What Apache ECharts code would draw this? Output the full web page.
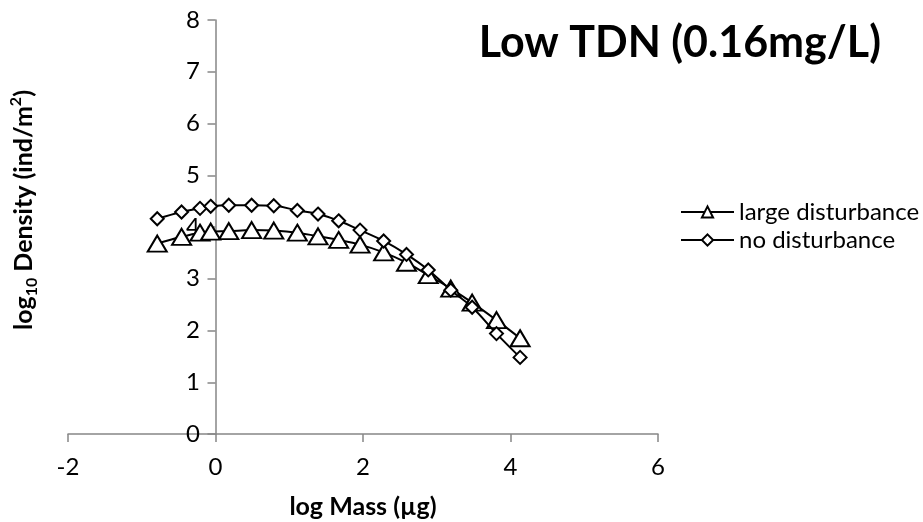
<!DOCTYPE html>
<html>
<head>
<meta charset="utf-8">
<script src="https://cdn.jsdelivr.net/npm/echarts@6/dist/echarts.min.js"></script>
<style>
html,body{margin:0;padding:0;background:#fff;}
#chart{width:923px;height:522px;}
</style>
</head>
<body>
<div id="chart"></div>
<script>
var titleText = 'Low TDN (0.16mg/L)';
var seriesNames = ['large disturbance', 'no disturbance'];
var logMass = [-0.79, -0.46, -0.21, -0.065, 0.18, 0.49, 0.79, 1.11, 1.39, 1.67, 1.96, 2.28, 2.59, 2.885, 3.19, 3.48, 3.81, 4.13];
var largeDisturbance = [3.68, 3.81, 3.89, 3.91, 3.92, 3.94, 3.93, 3.89, 3.82, 3.75, 3.66, 3.51, 3.31, 3.07, 2.81, 2.54, 2.20, 1.85];
var noDisturbance = [4.16, 4.29, 4.36, 4.40, 4.42, 4.42, 4.41, 4.32, 4.25, 4.12, 3.94, 3.73, 3.47, 3.17, 2.78, 2.45, 1.94, 1.48];
var xTicks = [-2, 0, 2, 4, 6];
var yTicks = [0, 1, 2, 3, 4, 5, 6, 7, 8];

function pairs(xs, ys) { return xs.map(function (x, i) { return [x, ys[i]]; }); }

var FONT = 'Lato';
var chart = echarts.init(document.getElementById('chart'), null, {renderer: 'canvas'});
var option = {
  animation: false,
  backgroundColor: '#fff',
  textStyle: {fontFamily: FONT},
  title: {
    text: titleText,
    right: 37,
    top: 17,
    textStyle: {fontFamily: FONT, fontWeight: 'bold', fontSize: 43, color: '#000'}
  },
  legend: {
    orient: 'vertical',
    left: 675,
    top: 195,
    itemWidth: 53,
    itemHeight: 14,
    itemGap: 4,
    textStyle: {fontFamily: FONT, fontSize: 24, color: '#000'},
    data: seriesNames
  },
  grid: {left: 68, right: 265, top: 20, bottom: 88, containLabel: false, outerBoundsMode: 'none'},
  xAxis: {
    type: 'value',
    min: xTicks[0], max: xTicks[xTicks.length - 1], interval: 2,
    name: 'log Mass (µg)',
    nameLocation: 'middle',
    nameGap: 60,
    nameTextStyle: {fontFamily: FONT, fontWeight: 'bold', fontSize: 25, color: '#000'},
    axisLine: {onZero: false, lineStyle: {color: '#868686', width: 1.5}},
    axisTick: {show: true, length: 8, lineStyle: {color: '#868686', width: 1.5}},
    axisLabel: {fontFamily: FONT, fontSize: 24, color: '#000', margin: 21},
    splitLine: {show: false}
  },
  yAxis: {
    type: 'value',
    min: yTicks[0], max: yTicks[yTicks.length - 1], interval: 1,
    name: '{b|log}{s|10}{b| Density (ind/m}{p|2}{b|)}',
    nameLocation: 'middle',
    nameRotate: 90,
    nameGap: 28,
    nameTextStyle: {
      padding: [0, 0, 0, 34],
      rich: {
        b: {fontFamily: FONT, fontWeight: 'bold', fontSize: 25, color: '#000', lineHeight: 32},
        s: {fontFamily: FONT, fontWeight: 'bold', fontSize: 16, color: '#000', lineHeight: 32, verticalAlign: 'bottom', padding: [12, 0, 0, 0]},
        p: {fontFamily: FONT, fontWeight: 'bold', fontSize: 16, color: '#000', lineHeight: 32, verticalAlign: 'top', padding: [0, 0, 12, 0]}
      }
    },
    axisLine: {onZero: true, lineStyle: {color: '#868686', width: 1.5}},
    axisTick: {show: true, length: 8, lineStyle: {color: '#868686', width: 1.5}},
    axisLabel: {fontFamily: FONT, fontSize: 24, color: '#000', margin: -132},
    splitLine: {show: false}
  },
  series: [
    {
      name: seriesNames[0],
      type: 'line',
      smooth: 0.4,
      data: pairs(logMass, largeDisturbance),
      symbol: 'triangle',
      symbolSize: [19, 16],
      lineStyle: {color: '#000', width: 2},
      itemStyle: {color: '#fff', borderColor: '#000', borderWidth: 2},
      z: 2
    },
    {
      name: seriesNames[1],
      type: 'line',
      smooth: 0.4,
      data: pairs(logMass, noDisturbance),
      symbol: 'diamond',
      symbolSize: [13, 13],
      lineStyle: {color: '#000', width: 2},
      itemStyle: {color: '#fff', borderColor: '#000', borderWidth: 2},
      z: 3
    }
  ]
};
chart.setOption(option);
</script>
</body>
</html>
